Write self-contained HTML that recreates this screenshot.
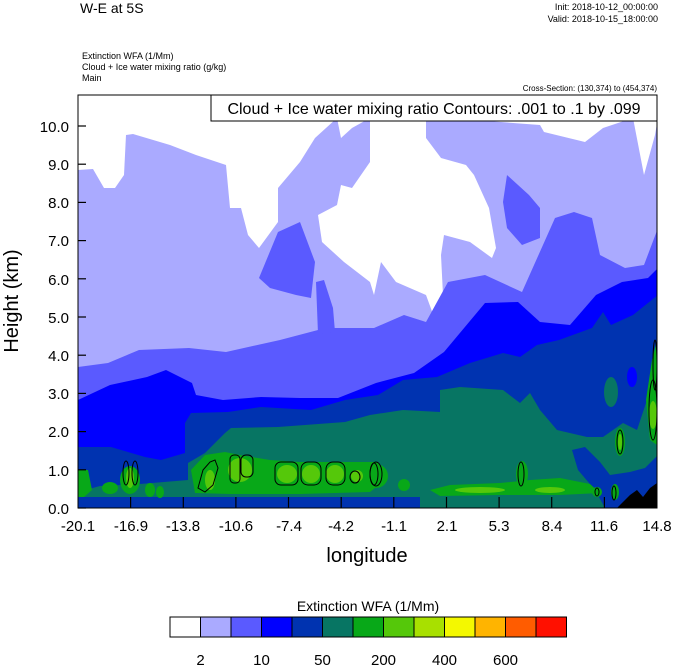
<!DOCTYPE html>
<html><head><style>
body{margin:0;background:#fff;width:674px;height:667px;overflow:hidden}
svg{display:block;font-family:"Liberation Sans",sans-serif}
</style></head><body>
<svg width="674" height="667" viewBox="0 0 674 667">
<text x="80" y="13" font-size="14">W-E at 5S</text>
<text x="658" y="10" font-size="9" text-anchor="end">Init: 2018-10-12_00:00:00</text>
<text x="658" y="22" font-size="9" text-anchor="end">Valid: 2018-10-15_18:00:00</text>
<text x="82" y="59" font-size="9">Extinction WFA   (1/Mm)</text>
<text x="82" y="70" font-size="9">Cloud + Ice water mixing ratio   (g/kg)</text>
<text x="82" y="81" font-size="9">Main</text>
<text x="657" y="91" font-size="8" text-anchor="end">Cross-Section: (130,374) to (454,374)</text>
<defs><clipPath id="c"><rect x="78" y="95" width="579" height="413"/></clipPath></defs>
<g clip-path="url(#c)">
<rect x="78" y="95" width="579" height="413" fill="#fff"/>
<!-- lavender -->
<path d="M78,170 L93,169 L104,188 L115,188 L124,175 L126,135 L133,134 L170,145 L196,155 L226,165 L230,208 L241,208 L248,235 L259,248 L278,222 L278,188 L300,162 L315,138 L337,118 L341,138 L352,128 L370,118 L370,162 L352,188 L341,185 L337,205 L318,215 L322,242 L344,262 L370,282 L374,295 L381,262 L396,282 L426,295 L437,325 L444,315 L441,255 L444,235 L470,242 L492,258 L496,248 L489,208 L474,175 L466,165 L441,158 L426,138 L426,118 L448,118 L540,125 L544,132 L585,142 L603,128 L633,118 L644,175 L655,135 L658,118 L658,508 L78,508Z" fill="#aaaaff"/>
<!-- medium blue -->
<g fill="#5a5aff">
<path d="M78,367 L108,363 L139,350 L189,348 L226,352 L280,340 L318,330 L333,328 L374,328 L404,315 L426,322 L448,282 L485,275 L522,292 L555,218 L574,212 L592,218 L600,255 L625,268 L644,265 L658,228 L658,508 L78,508Z"/>
<path d="M259,278 L278,232 L300,222 L315,262 L311,298 L296,295 L270,288Z"/>
<path d="M316,282 L324,280 L333,308 L335,332 L318,334Z"/>
<path d="M507,175 L529,195 L540,208 L540,238 L522,245 L507,228 L503,202Z"/>
</g>
<!-- blue -->
<path d="M78,400 L110,385 L147,377 L166,370 L192,383 L196,395 L223,400 L261,397 L300,398 L338,398 L376,383 L414,373 L444,352 L485,303 L518,302 L540,322 L570,325 L596,295 L622,282 L648,278 L658,268 L658,508 L78,508Z" fill="#0000ff"/>
<!-- navy -->
<path d="M78,447 L111,447 L145,457 L161,460 L185,453 L185,423 L191,413 L228,412 L261,407 L311,410 L345,400 L378,395 L403,380 L437,377 L470,363 L503,353 L520,357 L537,345 L559,340 L592,328 L603,312 L611,325 L633,315 L658,295 L658,508 L78,508Z" fill="#0033b0"/>
<!-- teal -->
<g fill="#077563">
<path d="M188,463 L205,453 L225,433 L231,428 L278,427 L345,422 L370,415 L403,410 L440,412 L440,390 L460,387 L503,390 L520,403 L530,393 L540,410 L557,430 L587,437 L603,437 L623,423 L637,430 L647,400 L657,373 L658,508 L188,508Z"/>
<path d="M78,492 L100,486 L140,484 L188,480 L188,500 L78,500Z"/>
<ellipse cx="611" cy="392" rx="7" ry="15"/>
</g>
<ellipse cx="632" cy="377" rx="5" ry="10" fill="#0000ff"/>
<path d="M572,450 L585,447 L600,462 L610,475 L630,472 L645,468 L658,455 L658,508 L605,508 L595,490 L578,470Z" fill="#0033b0"/>
<rect x="78" y="497" width="342" height="11" fill="#0033b0"/>
<!-- green bands -->
<g fill="#08a818">
<path d="M191,470 L205,455 L225,452 L240,455 L270,460 L300,462 L340,462 L378,462 L385,480 L370,492 L300,494 L230,494 L195,493Z"/>
<path d="M430,490 L450,485 L500,483 L530,480 L560,478 L590,484 L600,493 L560,495 L500,495 L440,496Z"/>
<path d="M78,470 L88,470 L92,490 L84,497 L78,497Z"/>
<ellipse cx="110" cy="488" rx="8" ry="6"/><ellipse cx="130" cy="480" rx="10" ry="14"/>
<ellipse cx="150" cy="490" rx="5" ry="7"/><ellipse cx="160" cy="492" rx="4" ry="6"/>
<ellipse cx="376" cy="476" rx="12" ry="12"/><ellipse cx="404" cy="485" rx="6" ry="6"/>
<ellipse cx="522" cy="474" rx="6" ry="13"/><ellipse cx="620" cy="442" rx="5" ry="14"/>
<ellipse cx="615" cy="492" rx="4" ry="8"/><ellipse cx="597" cy="492" rx="5" ry="5"/>
<path d="M650,440 L646,400 L652,360 L657,340 L657,445Z"/>
</g>
<g fill="#55c80a">
<ellipse cx="240" cy="470" rx="12" ry="12"/><ellipse cx="287" cy="474" rx="10" ry="9"/>
<ellipse cx="311" cy="474" rx="9" ry="9"/><ellipse cx="335" cy="474" rx="9" ry="9"/>
<ellipse cx="357" cy="476" rx="6" ry="6"/><ellipse cx="130" cy="478" rx="4" ry="10"/>
<ellipse cx="210" cy="480" rx="5" ry="10"/><ellipse cx="480" cy="490" rx="25" ry="3"/>
<ellipse cx="550" cy="490" rx="15" ry="3"/><ellipse cx="653" cy="415" rx="4" ry="14"/>
<ellipse cx="620" cy="442" rx="2" ry="8"/>
</g>
<!-- contours -->
<g fill="none" stroke="#000" stroke-width="1">
<ellipse cx="126" cy="473" rx="3" ry="12"/><ellipse cx="135" cy="473" rx="3" ry="12"/>
<path d="M198,488 L203,470 L210,462 L215,460 L218,468 L213,485 L205,492Z"/>
<rect x="230" y="455" width="10" height="28" rx="4"/><rect x="241" y="455" width="12" height="22" rx="5"/>
<rect x="275" y="462" width="23" height="23" rx="6"/><rect x="301" y="462" width="20" height="23" rx="7"/>
<rect x="326" y="462" width="19" height="23" rx="7"/><ellipse cx="355" cy="477" rx="5" ry="6"/>
<ellipse cx="374" cy="474" rx="4" ry="11"/><ellipse cx="376" cy="474" rx="6" ry="12"/>
<ellipse cx="521" cy="474" rx="3" ry="12"/><ellipse cx="620" cy="442" rx="3" ry="12"/>
<ellipse cx="614" cy="493" rx="2" ry="7"/><ellipse cx="597" cy="492" rx="2" ry="4"/>
<ellipse cx="653" cy="410" rx="4" ry="30"/><ellipse cx="655" cy="365" rx="2" ry="25"/>
</g>
<path d="M617,508 L630,495 L637,490 L643,497 L650,488 L657,483 L657,508Z" fill="#000"/>
</g>
<rect x="78" y="95" width="579" height="413" fill="none" stroke="#000" stroke-width="1"/>
<rect x="211" y="95" width="446" height="26" fill="#fff" stroke="#000" stroke-width="1"/>
<text x="434" y="114" font-size="16" text-anchor="middle">Cloud + Ice water mixing ratio Contours: .001 to .1 by .099</text>
<g stroke="#000" stroke-width="1.2">
<line x1="78" y1="508" x2="86" y2="508"/><line x1="78" y1="469.8" x2="86" y2="469.8"/>
<line x1="78" y1="431.6" x2="86" y2="431.6"/><line x1="78" y1="393.4" x2="86" y2="393.4"/>
<line x1="78" y1="355.2" x2="86" y2="355.2"/><line x1="78" y1="317" x2="86" y2="317"/>
<line x1="78" y1="278.8" x2="86" y2="278.8"/><line x1="78" y1="240.6" x2="86" y2="240.6"/>
<line x1="78" y1="202.4" x2="86" y2="202.4"/><line x1="78" y1="164.2" x2="86" y2="164.2"/>
<line x1="78" y1="126" x2="86" y2="126"/>
</g>
<g font-size="15" text-anchor="end">
<text x="69" y="514">0.0</text><text x="69" y="476">1.0</text><text x="69" y="437">2.0</text>
<text x="69" y="399">3.0</text><text x="69" y="361">4.0</text><text x="69" y="323">5.0</text>
<text x="69" y="285">6.0</text><text x="69" y="246">7.0</text><text x="69" y="208">8.0</text>
<text x="69" y="170">9.0</text><text x="69" y="132">10.0</text>
</g>
<g stroke="#000" stroke-width="1.2">
<line x1="130.6" y1="508" x2="130.6" y2="497"/><line x1="183.3" y1="508" x2="183.3" y2="497"/>
<line x1="235.9" y1="508" x2="235.9" y2="497"/><line x1="288.5" y1="508" x2="288.5" y2="497"/>
<line x1="341.2" y1="508" x2="341.2" y2="497"/><line x1="393.8" y1="508" x2="393.8" y2="497"/>
<line x1="446.5" y1="508" x2="446.5" y2="497"/><line x1="499.1" y1="508" x2="499.1" y2="497"/>
<line x1="551.7" y1="508" x2="551.7" y2="497"/><line x1="604.4" y1="508" x2="604.4" y2="497"/>
</g>
<g font-size="15" text-anchor="middle">
<text x="78" y="531">-20.1</text><text x="131" y="531">-16.9</text><text x="183" y="531">-13.8</text>
<text x="236" y="531">-10.6</text><text x="289" y="531">-7.4</text><text x="341" y="531">-4.2</text>
<text x="394" y="531">-1.1</text><text x="447" y="531">2.1</text><text x="499" y="531">5.3</text>
<text x="552" y="531">8.4</text><text x="604" y="531">11.6</text><text x="657" y="531">14.8</text>
</g>
<text x="367" y="562" font-size="20" text-anchor="middle">longitude</text>
<text transform="translate(18,301) rotate(-90)" font-size="20" text-anchor="middle">Height (km)</text>
<text x="368" y="611" font-size="14" text-anchor="middle">Extinction WFA  (1/Mm)</text>
<g stroke="#000" stroke-width="1">
<rect x="170" y="617" width="30.5" height="20" fill="#ffffff"/>
<rect x="200.5" y="617" width="30.5" height="20" fill="#aaaaff"/>
<rect x="231" y="617" width="30.5" height="20" fill="#5a5aff"/>
<rect x="261.5" y="617" width="30.5" height="20" fill="#0000ff"/>
<rect x="292" y="617" width="30.5" height="20" fill="#0033b0"/>
<rect x="322.5" y="617" width="30.5" height="20" fill="#077563"/>
<rect x="353" y="617" width="30.5" height="20" fill="#08a818"/>
<rect x="383.5" y="617" width="30.5" height="20" fill="#55c80a"/>
<rect x="414" y="617" width="30.5" height="20" fill="#a8e000"/>
<rect x="444.5" y="617" width="30.5" height="20" fill="#f4f800"/>
<rect x="475" y="617" width="30.5" height="20" fill="#ffb400"/>
<rect x="505.5" y="617" width="30.5" height="20" fill="#ff5c00"/>
<rect x="536" y="617" width="30.5" height="20" fill="#ff1000"/>
</g>
<g font-size="15" text-anchor="middle">
<text x="200.5" y="665">2</text><text x="261.5" y="665">10</text><text x="322.5" y="665">50</text>
<text x="383.5" y="665">200</text><text x="444.5" y="665">400</text><text x="505.5" y="665">600</text>
</g>
</svg>
</body></html>
